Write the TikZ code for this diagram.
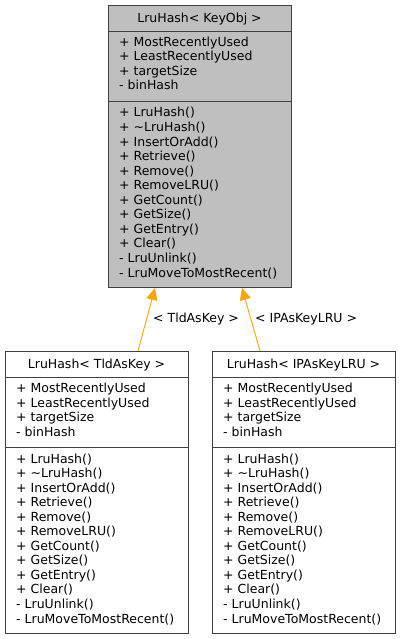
\documentclass[tikz,border=0pt]{standalone}
\usepackage{fontspec}
\setmainfont{DejaVu Sans}
\usetikzlibrary{arrows.meta}
\definecolor{boxgray}{HTML}{BFBFBF}
\definecolor{edge}{HTML}{404040}
\definecolor{inhorange}{HTML}{FFA500}
\tikzset{
  classbox/.style={draw=edge, line width=0.9pt, minimum width=183pt, minimum height=282pt, inner sep=0pt, anchor=north west},
  sepline/.style={draw=edge, line width=0.9pt},
  txt/.style={inner sep=0pt, font=\fontsize{12.5}{14.5}\selectfont, text=black},
  inh/.style={draw=inhorange, line width=0.9pt, -{Triangle[length=12pt,width=11pt,fill=inhorange]}},
}
\newcommand\umlclass[5]{%
  \node[classbox, fill=#4] (#1) at (#2,#3) {};
  \draw[sepline] (#2,#3+26) -- (#2+183,#3+26);
  \draw[sepline] (#2,#3+96) -- (#2+183,#3+96);
  \node[txt, anchor=base] (#1-title) at (#2+91.5,#3+17.5) {#5};
  \foreach \t [count=\i] in {+ MostRecentlyUsed, + LeastRecentlyUsed, + targetSize, - binHash}
    \node[txt, anchor=base west] (#1-a\i) at (#2+11,#3+41.5+\i*14.5-14.5) {\t};
  \foreach \t [count=\i] in {+ LruHash(), + \textasciitilde LruHash(), + InsertOrAdd(), + Retrieve(), + Remove(), + RemoveLRU(), + GetCount(), + GetSize(), + GetEntry(), + Clear(), - LruUnlink(), - LruMoveToMostRecent()}
    \node[txt, anchor=base west] (#1-m\i) at (#2+11,#3+112+\i*14.55-14.55) {\t};
}
\begin{document}
\begin{tikzpicture}[x=1pt,y=-1pt]
\useasboundingbox (0,0) rectangle (400,639);
\umlclass{base}{108}{5}{boxgray}{LruHash< KeyObj >}
\umlclass{tld}{5}{351}{white}{LruHash< TldAsKey >}
\umlclass{ip}{212}{351}{white}{LruHash< IPAsKeyLRU >}
\draw[inh] ([xshift=133pt]tld.north west) -- ([xshift=47pt]base.south west);
\draw[inh] ([xshift=48pt]ip.north west) -- ([xshift=134pt]base.south west);
\node[txt, anchor=base west] (l1) at (153,322.5) {< TldAsKey >};
\node[txt, anchor=base west] (l2) at (255,322.5) {< IPAsKeyLRU >};
\end{tikzpicture}
\end{document}
